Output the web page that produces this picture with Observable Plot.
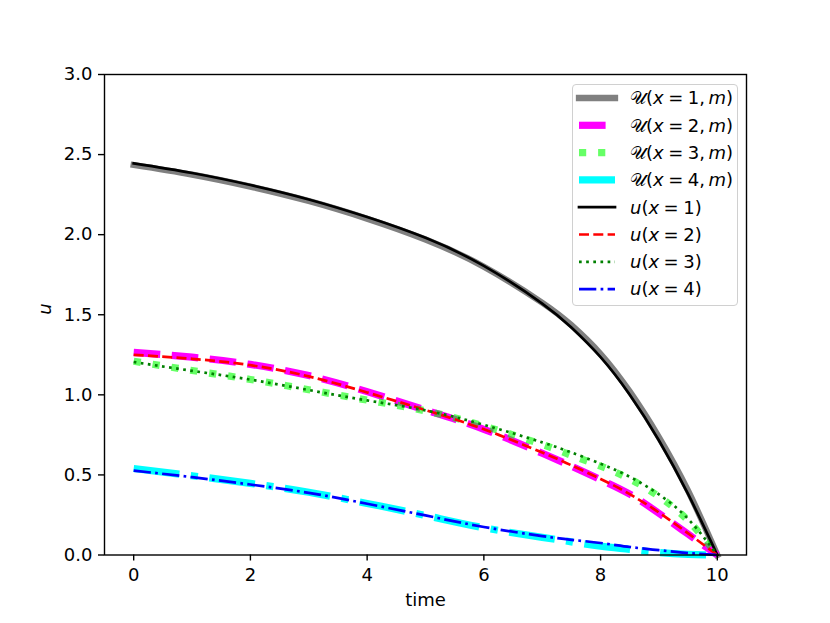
<!DOCTYPE html>
<html>
<head>
<meta charset="utf-8">
<script src="https://cdn.jsdelivr.net/npm/d3@7"></script>
<script src="https://cdn.jsdelivr.net/npm/@observablehq/plot@0.6"></script>
<style>
  html, body { margin: 0; padding: 0; background: white; }
  #wrap { position: relative; width: 830px; height: 623px; font-family: "DejaVu Sans", sans-serif; }
  #chart { position: absolute; left: 0; top: 0; }
  #legend { position: absolute; left: 572px; top: 84px; width: 164px; height: 220px;
            border: 1px solid #d0d0d0; border-radius: 4px; background: rgba(255,255,255,0.8); }
  #legend svg { display: block; overflow: visible; }
</style>
</head>
<body>
<div id="wrap"><div id="chart"></div><div id="legend"></div></div>
<script>
// ---- data ----
const times = [0, 1, 2, 3, 4, 5, 6, 7, 7.5, 8, 8.5, 9, 9.5, 10];

// model curves U(x, m)
const U1 = [2.435, 2.375, 2.30, 2.21, 2.10, 1.97, 1.80, 1.575, 1.435, 1.255, 1.02, 0.735, 0.40, 0];
const U2 = [1.265, 1.235, 1.19, 1.12, 1.02, 0.905, 0.785, 0.635, 0.555, 0.47, 0.38, 0.26, 0.13, 0];
const U3 = [1.21, 1.152, 1.096, 1.032, 0.967, 0.9, 0.805, 0.69, 0.622, 0.555, 0.475, 0.365, 0.215, 0];
const U4 = [0.54, 0.495, 0.447, 0.392, 0.322, 0.247, 0.17, 0.11, 0.082, 0.055, 0.035, 0.015, 0.004, 0];

// reference solutions u(x)
const u1 = [2.445, 2.385, 2.31, 2.22, 2.11, 1.98, 1.805, 1.57, 1.42, 1.235, 1.0, 0.715, 0.38, 0];
const u2 = [1.25, 1.225, 1.185, 1.115, 1.015, 0.905, 0.785, 0.64, 0.56, 0.475, 0.38, 0.265, 0.135, 0];
const u3 = [1.205, 1.15, 1.095, 1.03, 0.965, 0.903, 0.813, 0.703, 0.64, 0.57, 0.488, 0.378, 0.225, 0];
const u4 = [0.527, 0.486, 0.44, 0.388, 0.32, 0.247, 0.175, 0.118, 0.095, 0.075, 0.05, 0.03, 0.012, 0];

const xTicks = [0, 2, 4, 6, 8, 10];
const yTicks = [0, 0.5, 1.0, 1.5, 2.0, 2.5, 3.0];
const xLabel = "time";
const yLabel = "u";

// ---- styles ----
const EQ = "\u2005=\u2005";
const CM = ",\u2009";
const series = [
  {values: U1, stroke: "#808080", width: 6.3, dash: null, cap: "square", opacity: 1, label: ["𝒰(", "x", EQ + "1" + CM, "m", ")"]},
  {values: U2, stroke: "#ff00ff", width: 7.2, dash: "26.6 11.5", cap: "butt", opacity: 1, label: ["𝒰(", "x", EQ + "2" + CM, "m", ")"]},
  {values: U3, stroke: "#00ff00", width: 7.2, dash: "7.2 11.9", cap: "butt", opacity: 0.6, label: ["𝒰(", "x", EQ + "3" + CM, "m", ")"]},
  {values: U4, stroke: "#00ffff", width: 7.2, dash: "46 11.5 7.2 11.5", cap: "butt", opacity: 1, label: ["𝒰(", "x", EQ + "4" + CM, "m", ")"]},
  {values: u1, stroke: "#000000", width: 2.7, dash: null, cap: "square", opacity: 1, label: ["", "u", "(", "x", EQ + "1)"]},
  {values: u2, stroke: "#ff0000", width: 2.7, dash: "10 4.3", cap: "butt", opacity: 1, label: ["", "u", "(", "x", EQ + "2)"]},
  {values: u3, stroke: "#008000", width: 2.7, dash: "2.7 4.45", cap: "butt", opacity: 1, label: ["", "u", "(", "x", EQ + "3)"]},
  {values: u4, stroke: "#0000ff", width: 2.7, dash: "17.3 4.3 2.7 4.3", cap: "butt", opacity: 1, label: ["", "u", "(", "x", EQ + "4)"]}
];

const lineMarks = series.map(s => Plot.line(times.map((t, i) => ({t, v: s.values[i]})), {
  x: "t", y: "v", stroke: s.stroke, strokeWidth: s.width, strokeOpacity: s.opacity,
  strokeDasharray: s.dash || undefined, strokeLinecap: s.cap, strokeLinejoin: "round",
  curve: "natural"
}));

const chart = Plot.plot({
  width: 830, height: 623,
  marginLeft: 104, marginRight: 84, marginTop: 74, marginBottom: 68.5,
  style: {fontFamily: "DejaVu Sans", fontSize: "18px", background: "white", color: "black", overflow: "visible"},
  x: {domain: [-0.5, 10.5]},
  y: {domain: [0, 3]},
  marks: [
    ...lineMarks,
    Plot.frame({stroke: "black", strokeWidth: 1.4}),
    Plot.axisX({ticks: xTicks, tickSize: 6, tickPadding: 7, label: null, strokeWidth: 1.4, fontSize: 18}),
    Plot.axisY({ticks: yTicks, tickSize: 6, tickPadding: 6, label: null, strokeWidth: 1.4, fontSize: 18, tickFormat: d3.format(".1f")}),
    Plot.text([xLabel], {text: d => d, frameAnchor: "bottom", dy: 45.7, lineAnchor: "middle", fontSize: 18, fill: "black"}),
    Plot.text([yLabel], {text: d => d, frameAnchor: "left", dx: -59, rotate: -90, lineAnchor: "middle", fontSize: 18, fontStyle: "italic", fill: "black"})
  ]
});
document.getElementById("chart").appendChild(chart);

// ---- legend ----
const ns = "http://www.w3.org/2000/svg";
const lg = document.createElementNS(ns, "svg");
lg.setAttribute("width", 164);
lg.setAttribute("height", 220);
const rowY = i => 13 + i * 27.3;
series.forEach((s, i) => {
  const y = rowY(i);
  const ln = document.createElementNS(ns, "line");
  ln.setAttribute("x1", 6); ln.setAttribute("x2", 42);
  ln.setAttribute("y1", y); ln.setAttribute("y2", y);
  ln.setAttribute("stroke", s.stroke);
  ln.setAttribute("stroke-width", s.width);
  ln.setAttribute("stroke-opacity", s.opacity);
  ln.setAttribute("stroke-linecap", s.cap);
  if (s.dash) ln.setAttribute("stroke-dasharray", s.dash);
  lg.appendChild(ln);
  const tx = document.createElementNS(ns, "text");
  tx.setAttribute("x", 57);
  tx.setAttribute("y", y);
  tx.setAttribute("dy", "0.35em");
  tx.setAttribute("font-family", "DejaVu Sans");
  tx.setAttribute("font-size", 18);
  tx.setAttribute("xml:space", "preserve");
  s.label.forEach((part, j) => {
    if (!part) return;
    const sp = document.createElementNS(ns, "tspan");
    sp.textContent = part;
    if (j % 2 === 1) sp.setAttribute("font-style", "italic");
    tx.appendChild(sp);
  });
  lg.appendChild(tx);
});
document.getElementById("legend").appendChild(lg);
</script>
</body>
</html>
